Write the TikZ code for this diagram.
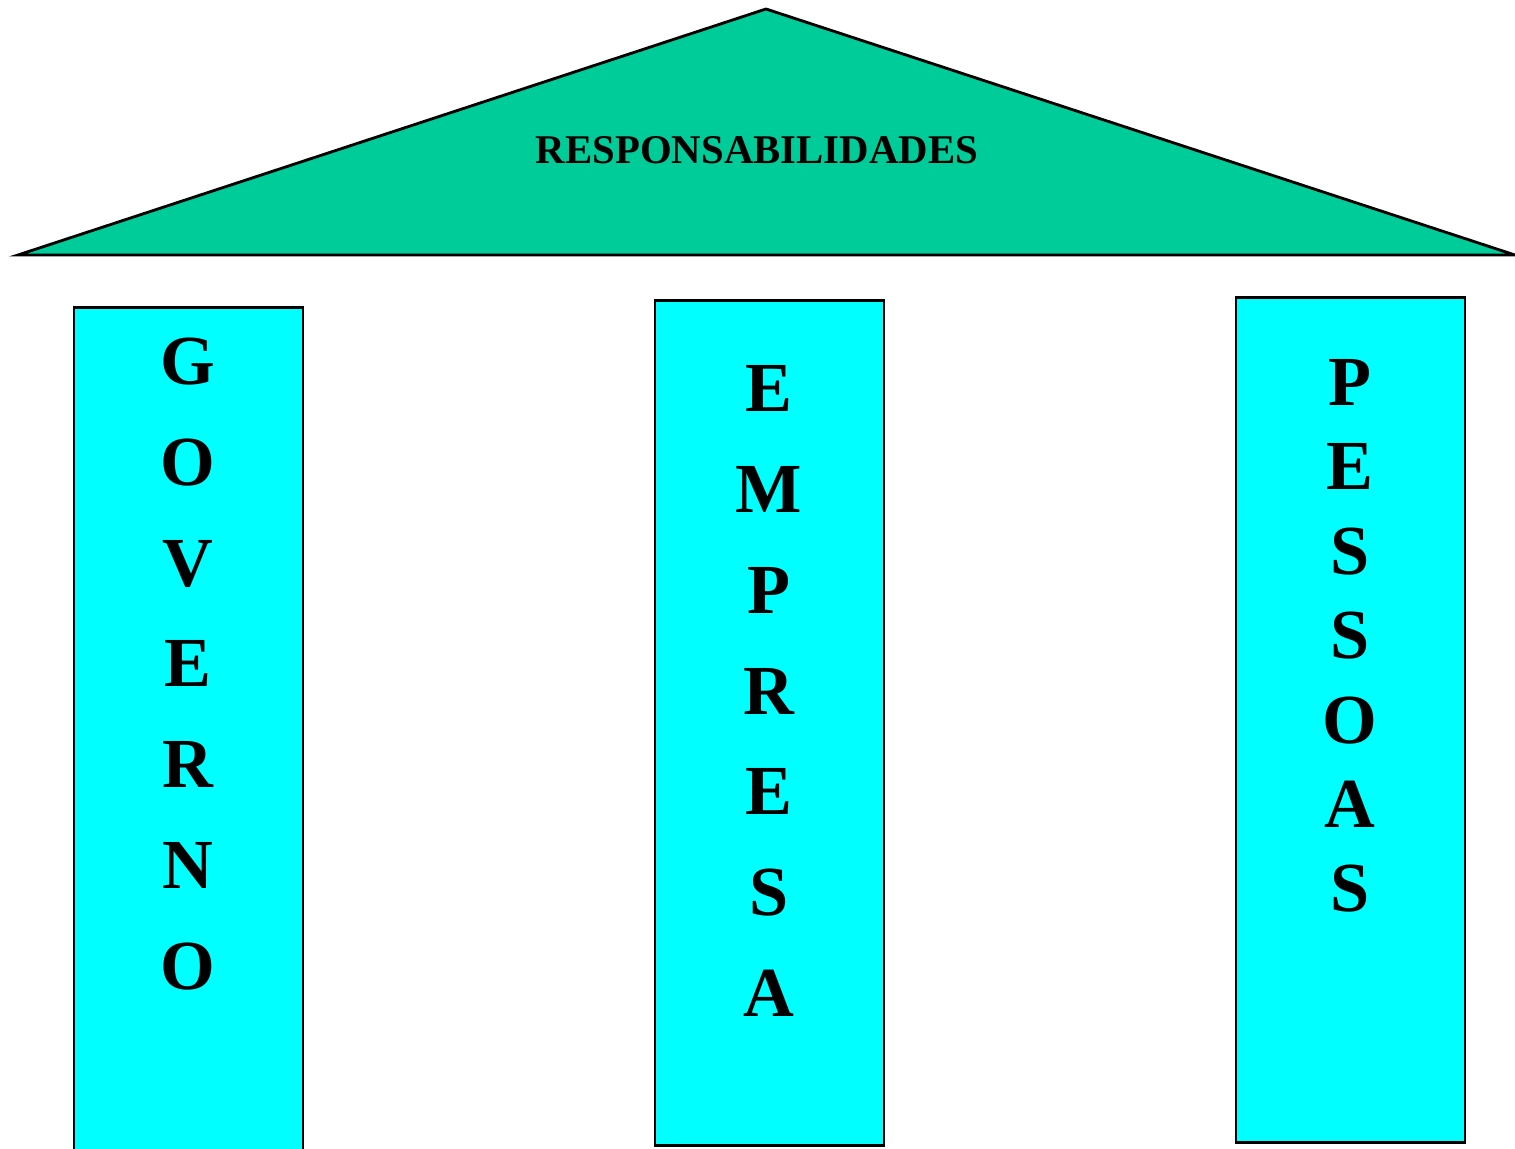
\documentclass[tikz,border=0pt]{standalone}
\usepackage{fontspec}
\setmainfont{Liberation Serif}
\usepackage{tikz}
\usetikzlibrary{positioning}
\definecolor{roofGreen}{HTML}{00CC99}
\definecolor{pillarCyan}{HTML}{00FFFF}

\begin{document}
\begin{tikzpicture}[x=0.01cm,y=-0.01cm,
  pillar/.style={rectangle,draw=black,line width=0.8pt,fill=pillarCyan,minimum width=2.29cm,inner sep=0pt},
  letters/.style={align=center,inner sep=0pt,font=\bfseries\fontsize{20}{28.7}\selectfont},
  every node/.style={text=black}
]
  \useasboundingbox (0,0) rectangle (1515,1149);
  % roof
  \draw[line width=0.8pt,fill=roofGreen,line join=miter] (18,255) -- (766,9) -- (1515,255) -- cycle;
  \node[font=\bfseries\fontsize{11.6}{14}\selectfont] (title) at (757,150) {RESPONSABILIDADES};
  % pillars
  \node[pillar,minimum height=8.52cm] (gov) at (188.5,734) {};
  \node[pillar,minimum height=8.44cm] (emp) at (769.5,723) {};
  \node[pillar,minimum height=8.44cm] (pes) at (1350.5,720) {};
  \node[letters] (govtxt) at (188,664) {G\\O\\V\\E\\R\\N\\O};
  \node[letters] (emptxt) at (769,691) {E\\M\\P\\R\\E\\S\\A};
  \node[letters,font=\bfseries\fontsize{20}{24}\selectfont] (pestxt) at (1350,636) {P\\E\\S\\S\\O\\A\\S};
\end{tikzpicture}
\end{document}
